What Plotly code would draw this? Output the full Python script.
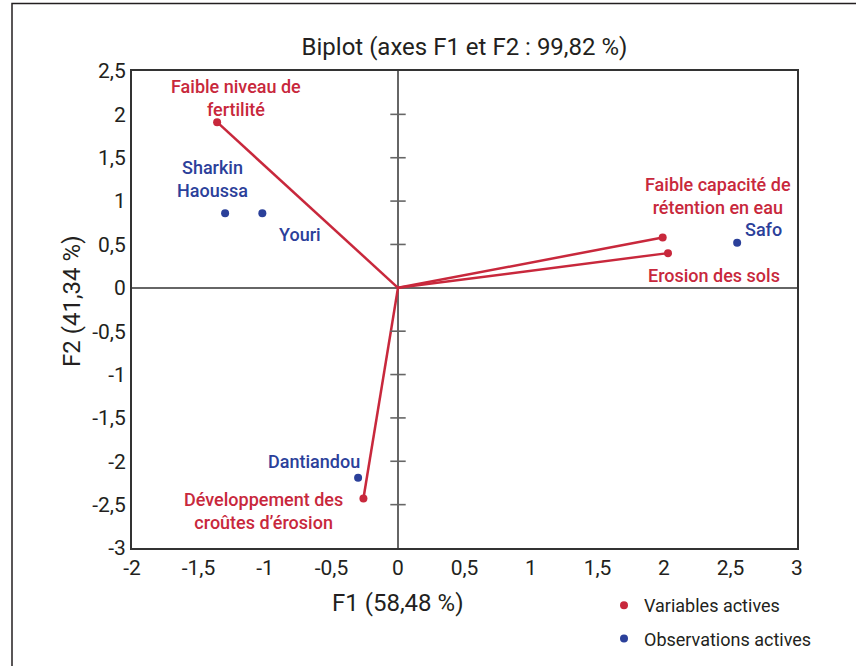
import plotly.graph_objects as go

# ---- data ----
var_names = ["Faible niveau de<br>fertilité", "Faible capacité de<br>rétention en eau",
             "Erosion des sols", "Développement des<br>croûtes d’érosion"]
var_f1 = [-1.36, 1.99, 2.03, -0.26]
var_f2 = [1.91, 0.58, 0.40, -2.43]

obs_names = ["Sharkin<br>Haoussa", "Youri", "Safo", "Dantiandou"]
obs_f1 = [-1.30, -1.02, 2.55, -0.30]
obs_f2 = [0.86, 0.86, 0.52, -2.19]

x_ticks = [-2, -1.5, -1, -0.5, 0, 0.5, 1, 1.5, 2, 2.5, 3]
x_tick_labels = ["-2", "-1,5", "-1", "-0,5", "0", "0,5", "1", "1,5", "2", "2,5", "3"]
y_ticks = [2.5, 2, 1.5, 1, 0.5, 0, -0.5, -1, -1.5, -2, -2.5, -3]
y_tick_labels = ["2,5", "2", "1,5", "1", "0,5", "0", "-0,5", "-1", "-1,5", "-2", "-2,5", "-3"]

RED = "#c8283c"
BLUE = "#2b409a"
INK = "#231f20"
FONT = "Roboto"

# label block-centre offsets in pixels (dx, dy with dy positive = down)
var_label_off = [(19, -24), (55, -42), (46, 22), (-100, 12)]
obs_label_off = [(-13, -34), (38, 21), (26, -13), (-44, -16)]

fig = go.Figure()

# vectors from origin
vx, vy = [], []
for a, b in zip(var_f1, var_f2):
    vx += [0, a, None]
    vy += [0, b, None]
fig.add_trace(go.Scatter(x=vx, y=vy, mode="lines", line=dict(color=RED, width=2.5),
                         showlegend=False, hoverinfo="skip"))

# tick marks on the vertical zero line
inner_ticks = [t for t in y_ticks if t not in (0, 2.5, -3)]
fig.add_trace(go.Scatter(x=[0] * len(inner_ticks), y=inner_ticks, mode="markers",
                         marker=dict(symbol="line-ew", size=11,
                                     line=dict(color="#666666", width=1.6)),
                         showlegend=False, hoverinfo="skip"))

fig.add_trace(go.Scatter(x=var_f1, y=var_f2, mode="markers", name="Variables actives",
                         marker=dict(color=RED, size=8), legendgroup="v"))
fig.add_trace(go.Scatter(x=obs_f1, y=obs_f2, mode="markers", name="Observations actives",
                         marker=dict(color=BLUE, size=8), legendgroup="o"))

annotations = []
for name, a, b, (dx, dy) in zip(var_names, var_f1, var_f2, var_label_off):
    annotations.append(dict(x=a, y=b, text=name, showarrow=False, xshift=dx, yshift=-dy,
                            xanchor="center", yanchor="middle",
                            font=dict(family=FONT, size=18, color=RED, weight=500),
                            align="center"))
for name, a, b, (dx, dy) in zip(obs_names, obs_f1, obs_f2, obs_label_off):
    annotations.append(dict(x=a, y=b, text=name, showarrow=False, xshift=dx, yshift=-dy,
                            xanchor="center", yanchor="middle",
                            font=dict(family=FONT, size=18, color=BLUE, weight=500),
                            align="center"))

L, R, T, B = 132, 59, 71, 118
W, H = 856, 666
pw, ph = W - L - R, H - T - B


def px(xp):
    return (xp - L) / pw


def py(yp):
    return (H - B - yp) / ph


annotations.append(dict(xref="paper", yref="paper", x=px(397), y=py(603), text="F1 (58,48 %)",
                        xanchor="center", yanchor="middle",
                        showarrow=False, font=dict(family=FONT, size=24, color=INK)))
annotations.append(dict(xref="paper", yref="paper", x=px(72), y=py(302), text="F2 (41,34 %)",
                        xanchor="center", yanchor="middle",
                        showarrow=False, textangle=-90,
                        font=dict(family=FONT, size=24, color=INK)))

fig.update_layout(
    width=W, height=H,
    margin=dict(l=L, r=R, t=T, b=B, autoexpand=False),
    paper_bgcolor="white", plot_bgcolor="white",
    font=dict(family=FONT, color=INK),
    title=dict(text="Biplot (axes F1 et F2 : 99,82 %)", xref="container", x=464.5 / W,
               xanchor="center", yref="container", y=1 - 47 / H, yanchor="middle",
               font=dict(family=FONT, size=24, color=INK)),
    xaxis=dict(range=[-2, 3], tickvals=x_ticks, ticktext=x_tick_labels, showgrid=False,
               zeroline=True, zerolinecolor="#666666", zerolinewidth=2,
               showline=True, mirror=True, linecolor="#333333", linewidth=2,
               ticks="", tickfont=dict(size=21, family=FONT, color=INK)),
    yaxis=dict(range=[-3, 2.5], tickvals=y_ticks, ticktext=y_tick_labels, showgrid=False,
               zeroline=True, zerolinecolor="#666666", zerolinewidth=2,
               showline=True, mirror=True, linecolor="#333333", linewidth=2,
               ticks="", tickfont=dict(size=21, family=FONT, color=INK)),
    legend=dict(x=px(604), y=py(587), xanchor="left", yanchor="top",
                font=dict(family=FONT, size=18, color=INK),
                traceorder="grouped", tracegroupgap=7, bgcolor="rgba(0,0,0,0)",
                itemwidth=30),
    annotations=annotations,
    shapes=[dict(type="rect", xref="paper", yref="paper",
                 x0=px(12), x1=px(900), y0=py(700), y1=py(3.5),
                 line=dict(color=INK, width=1.5), layer="below")],
    showlegend=True,
)

fig.write_html("out.html", config={"displayModeBar": False},
               post_script="document.body.style.margin='0';")
